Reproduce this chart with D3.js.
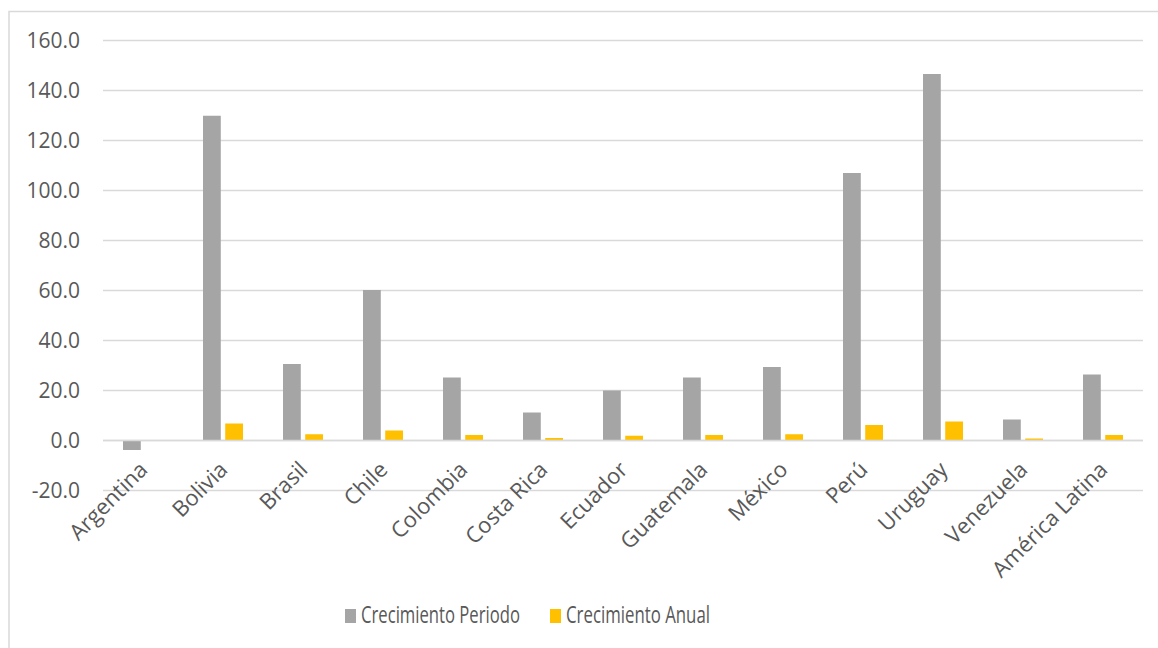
<!DOCTYPE html>
<html>
<head>
<meta charset="utf-8">
<script src="https://cdn.jsdelivr.net/npm/d3@7/dist/d3.min.js"></script>
<style>
  html, body { margin: 0; padding: 0; background: #ffffff; }
  svg { display: block; }
</style>
</head>
<body>
<svg id="chart" width="1158" height="648"></svg>
<script>
// ---- data ----
const categories = ["Argentina", "Bolivia", "Brasil", "Chile", "Colombia", "Costa Rica", "Ecuador", "Guatemala", "México", "Perú", "Uruguay", "Venezuela", "América Latina"];
const seriesNames = ["Crecimiento Periodo", "Crecimiento Anual"];
const crecimientoPeriodo = [-4.0, 129.7, 30.4, 60.0, 25.0, 11.0, 19.8, 25.0, 29.2, 106.8, 146.4, 8.2, 26.2];
const crecimientoAnual = [-0.3, 6.6, 2.3, 3.8, 2.0, 0.8, 1.7, 2.0, 2.3, 6.0, 7.4, 0.6, 2.0];
const yTicks = [-20, 0, 20, 40, 60, 80, 100, 120, 140, 160];

const colors = ["#A5A5A5", "#FFC000"];
const seriesValues = [crecimientoPeriodo, crecimientoAnual];

const svg = d3.select("#chart");
const font = "'Open Sans', 'DejaVu Sans', sans-serif";

// chart frame
svg.append("rect")
  .attr("x", 9).attr("y", 11.5)
  .attr("width", 1200).attr("height", 700)
  .attr("fill", "#ffffff")
  .attr("stroke", "#D9D9D9").attr("stroke-width", 1.5);

const plotLeft = 103, plotRight = 1143, plotTop = 40, plotBottom = 490;

const x = d3.scaleBand().domain(categories).range([plotLeft, plotRight]).paddingInner(0).paddingOuter(0);
const xs = d3.scaleBand().domain(seriesNames).range([20, 60]).paddingInner(0.2).paddingOuter(0);
const y = d3.scaleLinear().domain([-20, 160]).range([plotBottom, plotTop]);

// gridlines
svg.append("g").selectAll("line")
  .data(yTicks)
  .join("line")
  .attr("x1", plotLeft).attr("x2", plotRight)
  .attr("y1", d => Math.round(y(d)) + 0.5).attr("y2", d => Math.round(y(d)) + 0.5)
  .attr("stroke", "#D9D9D9").attr("stroke-width", 1.5);

// y axis labels
const fmt = d3.format(".1f");
const yAxis = d3.axisLeft(y).tickValues(yTicks)
  .tickFormat(d => fmt(d).replace("\u2212", "-"))
  .tickSize(0).tickPadding(0);
const yg = svg.append("g").attr("transform", "translate(80,0)").call(yAxis);
yg.select(".domain").remove();
yg.selectAll("text")
  .attr("font-family", font).attr("font-size", 21).attr("fill", "#595959")
  .attr("dy", "0.35em");

// bars
const rows = categories.map((c, i) => ({ c, vals: seriesNames.map((s, j) => ({ s, j, v: seriesValues[j][i] })) }));
const groups = svg.append("g").selectAll("g")
  .data(rows)
  .join("g")
  .attr("transform", d => `translate(${x(d.c)},0)`);
groups.selectAll("rect")
  .data(d => d.vals)
  .join("rect")
  .attr("x", d => xs(d.s))
  .attr("width", xs.bandwidth())
  .attr("y", d => y(Math.max(0, d.v)))
  .attr("height", d => Math.max(0.8, Math.abs(y(d.v) - y(0))))
  .attr("fill", d => colors[d.j]);

// zero line
svg.append("line")
  .attr("x1", plotLeft).attr("x2", plotRight)
  .attr("y1", y(0) + 0.5).attr("y2", y(0) + 0.5)
  .attr("stroke", "#D9D9D9").attr("stroke-width", 1.5);

// x labels (rotated)
svg.append("g").selectAll("text")
  .data(categories)
  .join("text")
  .attr("transform", d => `translate(${x(d) + x.bandwidth() / 2 + 6},471) rotate(-45)`)
  .attr("text-anchor", "end")
  .attr("font-family", font).attr("font-size", 22).attr("fill", "#595959")
  .text(d => d);

// legend
const legendItems = [
  { name: seriesNames[0], color: colors[0], x: 345, tw: 159 },
  { name: seriesNames[1], color: colors[1], x: 550, tw: 144 }
];
const lg = svg.append("g").selectAll("g").data(legendItems).join("g")
  .attr("transform", d => `translate(${d.x},0)`);
lg.append("rect").attr("x", 0).attr("y", 609).attr("width", 11).attr("height", 14).attr("fill", d => d.color);
lg.append("text")
  .attr("x", 16).attr("y", 623)
  .attr("font-family", font).attr("font-size", 23).attr("fill", "#595959")
  .attr("textLength", d => d.tw).attr("lengthAdjust", "spacingAndGlyphs")
  .text(d => d.name);
</script>
</body>
</html>
